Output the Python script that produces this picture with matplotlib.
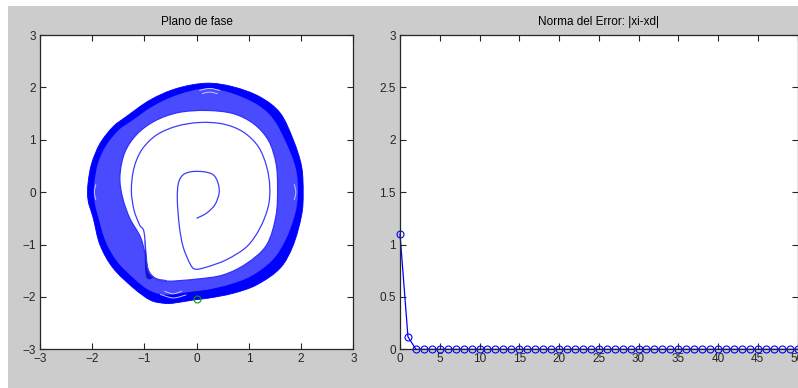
import matplotlib.pyplot as plt
from matplotlib.patches import Rectangle, PathPatch
from matplotlib.path import Path

plt.rcParams['font.family'] = ['Liberation Sans', 'DejaVu Sans']

# phase plane: outer edge of the limit-cycle band
outer_x = [0.19, 0.70, 1.21, 1.60, 1.85, 2.01, 2.04, 2.01, 1.85, 1.60, 1.15, 0.70, 0.25,
           -0.07, -0.45, -0.64, -0.89, -1.21, -1.60, -1.85, -1.98, -2.08, -2.08, -2.01,
           -1.85, -1.60, -1.35, -0.89, -0.38]
outer_y = [2.08, 2.01, 1.82, 1.51, 1.00, 0.49, -0.02, -0.44, -1.01, -1.45, -1.77, -1.93, -2.02,
           -2.06, -2.12, -2.12, -2.06, -1.83, -1.45, -1.01, -0.50, -0.15, 0.17, 0.55,
           0.93, 1.25, 1.44, 1.76, 1.98]

# where the densely packed loops give way to spaced ones
mid_x = [0.19, 0.70, 1.18, 1.48, 1.72, 1.90, 1.94, 1.88, 1.70, 1.45, 1.05, 0.64, 0.22,
         -0.10, -0.45, -0.70, -0.95, -1.20, -1.52, -1.74, -1.88, -1.96, -1.96, -1.89,
         -1.74, -1.50, -1.26, -0.84, -0.36]
mid_y = [1.98, 1.88, 1.66, 1.38, 0.93, 0.45, -0.02, -0.44, -0.92, -1.30, -1.60, -1.76, -1.86,
         -1.90, -1.95, -1.95, -1.85, -1.65, -1.33, -0.95, -0.50, -0.15, 0.17, 0.55,
         0.88, 1.18, 1.35, 1.64, 1.86]

# inner edge of the band
inner_x = [0.19, 0.70, 1.10, 1.38, 1.52, 1.55, 1.52, 1.34, 0.96, 0.51, 0.00, -0.57, -0.80,
           -0.93, -0.99, -1.08, -1.28, -1.42, -1.47, -1.38, -1.15, -0.80, -0.35]
inner_y = [1.56, 1.50, 1.30, 0.98, 0.55, 0.10, -0.45, -1.01, -1.36, -1.58, -1.66, -1.70, -1.64,
           -1.48, -1.17, -0.85, -0.50, -0.10, 0.30, 0.75, 1.10, 1.36, 1.52]

# first turns of the trajectory, starting at (0, -0.5)
traj_x = [0.00, 0.19, 0.35, 0.43, 0.41, 0.32, 0.13, -0.10, -0.26, -0.35, -0.37, -0.33, -0.26,
          -0.13, -0.03, 0.19, 0.57, 0.96, 1.21, 1.37, 1.40, 1.34, 1.18, 0.89, 0.51, 0.06,
          -0.38, -0.77, -1.05, -1.20, -1.25, -1.20, -1.09, -1.01, -0.97, -0.93, -0.80, -0.57]
traj_y = [-0.50, -0.40, -0.24, -0.02, 0.17, 0.33, 0.39, 0.39, 0.33, 0.17, -0.15, -0.66, -1.04,
          -1.36, -1.47, -1.43, -1.29, -1.04, -0.69, -0.28, 0.10, 0.49, 0.87, 1.15, 1.30, 1.33,
          1.26, 1.09, 0.81, 0.46, 0.04, -0.34, -0.63, -0.75, -1.17, -1.48, -1.64, -1.69]

# darker wedge where the loops bunch together on the lower left
wedge_x = [-0.99, -0.93, -0.82, -0.97]
wedge_y = [-0.90, -1.50, -1.62, -1.60]

# light arcs inside the dense rim (loops spreading apart at the turning points)
arcs = [
    ([-1.93, -1.96, -1.93], [0.15, 0.0, -0.15]),
    ([1.87, 1.90, 1.87], [0.15, 0.0, -0.15]),
    ([0.05, 0.25, 0.45], [1.94, 1.98, 1.94]),
    ([0.10, 0.25, 0.40], [1.88, 1.91, 1.88]),
    ([-0.70, -0.45, -0.20], [-1.95, -2.02, -1.96]),
    ([-0.62, -0.45, -0.28], [-1.89, -1.94, -1.89]),
]

end_x, end_y = 0.0, -2.04

# error norm per iteration
iters = list(range(51))
error_norm = [1.10, 0.12, 0.0, 0.0, 0.0, 0.0, 0.0, 0.0, 0.0, 0.0, 0.0, 0.0, 0.0, 0.0, 0.0,
              0.0, 0.0, 0.0, 0.0, 0.0, 0.0, 0.0, 0.0, 0.0, 0.0, 0.0, 0.0, 0.0, 0.0, 0.0,
              0.0, 0.0, 0.0, 0.0, 0.0, 0.0, 0.0, 0.0, 0.0, 0.0, 0.0, 0.0, 0.0, 0.0, 0.0,
              0.0, 0.0, 0.0, 0.0, 0.0, 0.0]


def smooth_path(xs, ys, closed=True):
    # cubic Bezier segments through the given points (Catmull-Rom tangents)
    pts = list(zip(xs, ys))
    n = len(pts)

    def p(i):
        if closed:
            return pts[i % n]
        return pts[min(max(i, 0), n - 1)]

    verts = [pts[0]]
    codes = [Path.MOVETO]
    last = n if closed else n - 1
    for i in range(last):
        p0, p1, p2, p3 = p(i - 1), p(i), p(i + 1), p(i + 2)
        c1 = (p1[0] + (p2[0] - p0[0]) / 6, p1[1] + (p2[1] - p0[1]) / 6)
        c2 = (p2[0] - (p3[0] - p1[0]) / 6, p2[1] - (p3[1] - p1[1]) / 6)
        verts += [c1, c2, p2]
        codes += [Path.CURVE4] * 3
    return Path(verts, codes)


W, H = 798, 388
fig = plt.figure(figsize=(W / 100, H / 100), dpi=100)
fig.patch.set_facecolor('white')
fig.add_artist(Rectangle((8 / W, 0), 1, 1 - 6 / H, transform=fig.transFigure,
                         facecolor='#cccccc', edgecolor='none', zorder=-10))


def style(ax):
    ax.set_facecolor('white')
    ax.tick_params(direction='in', length=4, width=0.8, labelsize=8.5, pad=3,
                   top=True, right=True, colors='#262626')
    for s in ax.spines.values():
        s.set_color('#262626')
        s.set_linewidth(0.9)


ax1 = fig.add_axes([40 / W, 1 - 349.3 / H, 313.3 / W, 314.3 / H])
style(ax1)
ax1.add_patch(PathPatch(smooth_path(outer_x, outer_y), fc='#0000ff', ec='#0000ff', lw=0.6))
ax1.add_patch(PathPatch(smooth_path(mid_x, mid_y), fc='#4a4aff', ec='none'))
ax1.add_patch(PathPatch(smooth_path(inner_x, inner_y), fc='white', ec='#3030ff', lw=0.9))
ax1.add_patch(PathPatch(smooth_path(wedge_x, wedge_y), fc='#1010d0', ec='none'))
for ax_, ay_ in arcs:
    ax1.add_patch(PathPatch(smooth_path(ax_, ay_, closed=False), fc='none',
                            ec='#c8c8ff', lw=0.7))
ax1.add_patch(PathPatch(smooth_path(traj_x, traj_y, closed=False), fc='none',
                        ec='#3c3cff', lw=0.9))
ax1.plot(end_x, end_y, 'o', mfc='none', mec='#00a000', ms=5, mew=0.8)
ax1.set_xlim(-3, 3)
ax1.set_ylim(-3, 3)
ax1.set_xticks(range(-3, 4))
ax1.set_yticks(range(-3, 4))
ax1.set_title('Plano de fase', fontsize=8.5, pad=7)

ax2 = fig.add_axes([400 / W, 1 - 349.3 / H, 397.5 / W, 314.3 / H])
style(ax2)
ax2.plot(iters, error_norm, '-o', color='#0000ff', mfc='none', ms=5, mew=0.8, lw=0.9,
         clip_on=False)
ax2.set_xlim(0, 50)
ax2.set_ylim(0, 3)
ax2.set_xticks(range(0, 51, 5))
ax2.set_yticks([0, 0.5, 1, 1.5, 2, 2.5, 3])
ax2.set_yticklabels(['0', '0.5', '1', '1.5', '2', '2.5', '3'])
ax2.set_title('Norma del Error: |xi-xd|', fontsize=8.5, pad=7)

fig.savefig('out.png', dpi=100)
